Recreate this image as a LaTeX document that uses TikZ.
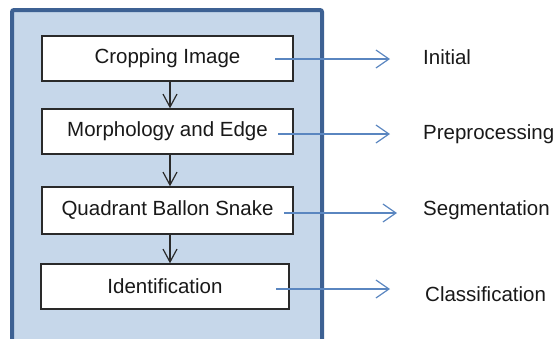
\documentclass[tikz,border=0pt]{standalone}
\usepackage{fontspec}
\setmainfont{Liberation Sans}
\usetikzlibrary{arrows.meta}
\definecolor{panelfill}{HTML}{C6D7EA}
\definecolor{panelline}{HTML}{3D6193}
\definecolor{linkblue}{HTML}{5A86C0}
\definecolor{darkline}{HTML}{2A2A2A}
\tikzset{
  stepbox/.style={draw=darkline, line width=1.4pt, fill=white, minimum height=45pt,
    inner sep=0pt, font=\fontsize{20.5}{24}\selectfont, text=black!90},
  flow/.style={draw=darkline, line width=1.2pt, -{Straight Barb[length=13pt,width=14pt,line width=1.2pt]}},
  link/.style={draw=linkblue, line width=1.2pt, -{Straight Barb[length=13pt,width=18pt,line width=1.2pt]}},
  lab/.style={anchor=west, inner sep=0pt, font=\fontsize{20.5}{24}\selectfont, text=black!90}
}
\begin{document}
\begin{tikzpicture}[x=1pt,y=-1pt]
\useasboundingbox (0,0) rectangle (560,338);
\clip (0,0) rectangle (560,338);
\draw[panelline, line width=4pt, fill=panelfill, rounded corners=2pt] (12,10) rectangle (322,360);
\node[stepbox, minimum width=251pt] (b1) at (167.5,58.5) {Cropping Image};
\node[stepbox, minimum width=251pt] (b2) at (167.5,131.5) {Morphology and Edge};
\node[stepbox, minimum width=251pt, minimum height=47pt] (b3) at (167.5,210.5) {Quadrant Ballon Snake};
\node[stepbox, minimum width=248pt] (b4) at (165,286.5) {Identification};
\draw[flow] (b1.south -| 170,0) -- (b2.north -| 170,0);
\draw[flow] (b2.south -| 170,0) -- (b3.north -| 170,0);
\draw[flow] (b3.south -| 170,0) -- (b4.north -| 170,0);
\node[lab] (l1) at (423,57) {Initial};
\node[lab] (l2) at (423,134) {Preprocessing};
\node[lab] (l3) at (423,210) {Segmentation};
\node[lab] (l4) at (425,294) {Classification};
\coordinate (s1) at (275,59);
\coordinate (e1) at (390,59);
\coordinate (s2) at (278,134);
\coordinate (e2) at (390,134);
\coordinate (s3) at (284,213);
\coordinate (e3) at (397,213);
\coordinate (s4) at (276,289);
\coordinate (e4) at (390,289);
\draw[link] (s1) -- (e1);
\draw[link] (s2) -- (e2);
\draw[link] (s3) -- (e3);
\draw[link] (s4) -- (e4);
\end{tikzpicture}
\end{document}
